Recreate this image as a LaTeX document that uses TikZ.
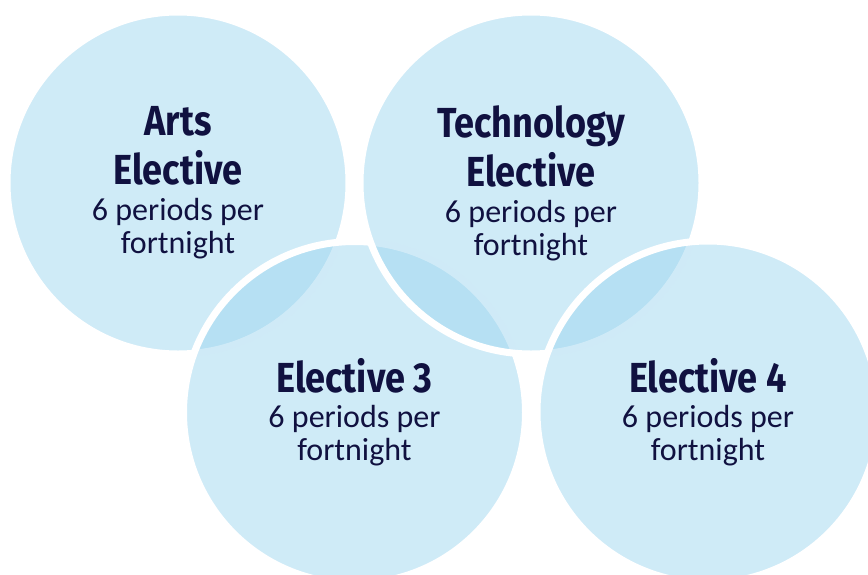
\documentclass[tikz,border=0pt]{standalone}
\usepackage{fontspec}
\setmainfont{Carlito}
\newfontfamily\headfont{Fira Sans}[FakeStretch=0.86]
\usetikzlibrary{positioning}
\definecolor{bubblefill}{RGB}{151,211,238}
\definecolor{inkblue}{RGB}{16,17,64}
\newcommand{\headline}[1]{\raisebox{0pt}[\height][0pt]{\headfont\bfseries\fontsize{42}{47}\selectfont #1}}
\tikzset{
        % Elective circles
        bubble/.style={circle, draw=white, line width=7pt, fill=bubblefill, fill opacity=0.46,
                text opacity=1, text=inkblue, minimum size=342pt, inner sep=0pt, align=center,
                font=\fontsize{32}{33}\selectfont}
}

\begin{document}
\begin{tikzpicture}[x=1pt, y=-1pt]
    \useasboundingbox (0,0) rectangle (868,574);
    \node[bubble] (arts) at (178,183) {\headline{Arts}\\[14pt]\headline{Elective}\\[3pt]6 periods per\\fortnight};
    \node[bubble] (elec3) at (354.5,412.5) {\headline{Elective 3}\\[2pt]6 periods per\\fortnight};
    \node[bubble] (tech) at (531,183) {\headline{Technology}\\[14pt]\headline{Elective}\\[3pt]6 periods per\\fortnight};
    \node[bubble] (elec4) at (708,412) {\headline{Elective 4}\\[2pt]6 periods per\\fortnight};
\end{tikzpicture}
\end{document}
